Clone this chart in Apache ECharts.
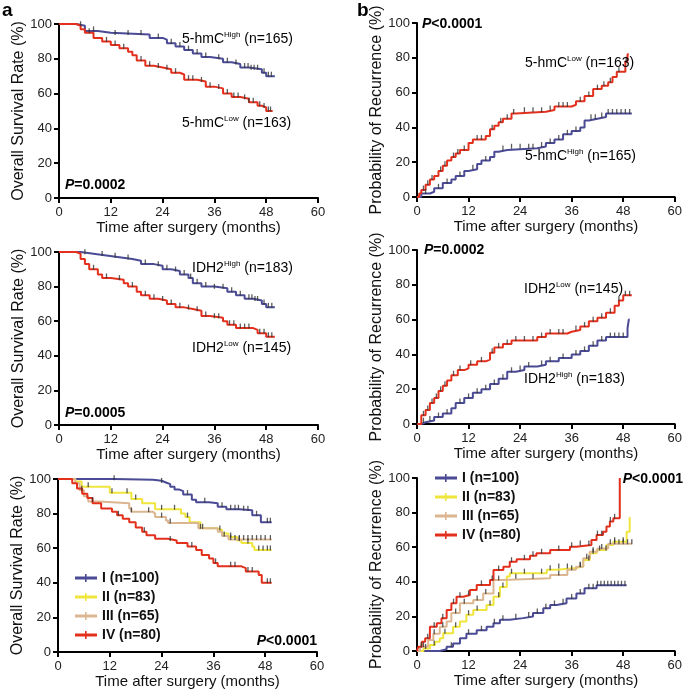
<!DOCTYPE html>
<html>
<head>
<meta charset="utf-8">
<script src="https://cdn.jsdelivr.net/npm/echarts/dist/echarts.min.js"></script>
<style>
html, body { margin: 0; padding: 0; background: #fff; }
#main { width: 685px; height: 691px; }
</style>
</head>
<body>
<div id="main"></div>
<script>
// ---- data (months, percent) ----
// panel a, top: 5-hmC overall survival
var hmcHighOS = [[0,100],[4,99],[6,96],[9,95],[12,94],[21,92],[24,91],[25,89],[27,87],[29,85],[31,83],[33,81],[35,80],[38,78],[40,77],[42,75],[44,74],[47,72],[48,70],[50,70]];
var hmcLowOS = [[0,100],[4,99],[5,97],[6,95],[8,92],[10,90],[12,88],[14,86],[16,84],[17,82],[18,79],[20,76],[22,75],[24,74],[26,72],[28,71],[29,68],[32,67],[34,64],[36,63],[38,60],[40,58],[42,57],[44,55],[46,53],[47,52],[48,50],[49.5,50]];
var hmcHighOSCens = [5,8,13,16,19,23,26,28,30,32,34,37,39,41,43,43.8,44.5,45.2,46,47.5,48.5,49.2];
var hmcLowOSCens = [7,11,13,15,19,21,23,25,27,30,31,33,35,37,39,40.5,41.5,43,44,45,46.5,47.5,48.5,49];

// panel b, top: 5-hmC recurrence
var hmcLowRec = [[0,0],[0.5,2],[1,4],[2,7],[3,10],[4,12],[5,15],[6,18],[7,21],[8,23],[9,25],[10,27],[12,31],[13,33],[16,35],[17,39],[18,41],[19,43],[20,45],[22,48],[23,49],[30,50],[32,52],[36,53],[37,55],[39,58],[41,62],[43,64],[44.5,66],[45.5,69],[46.5,72],[48.5,78],[49,82],[49.3,82]];
var hmcHighRec = [[0,0],[1,2],[3,3],[4,5],[6,8],[8,10],[9,12],[11,15],[12,16],[14,19],[15,21],[17,23],[18,26],[19,27],[21,28],[28,29],[30,31],[32,33],[34,36],[36,38],[38,40],[39,44],[40,45],[42,46],[44,48],[50,48]];
var hmcLowRecCens = [1.5,2.5,3.5,5.5,6.5,8.5,9.5,11,14,15,17.5,19.5,21,22.5,25,27,29,31,33,34,35,38,40,42,43.5,45,47,48.7];
var hmcHighRecCens = [2,5,7,10,13,16,20,22,24,26,27,29,31,33,35,37,40.5,41.5,43,44.5,45.5,46.5,47.5,48.5,49.5];

// panel a, middle: IDH2 overall survival
var idhHighOS = [[0,100],[5,99],[8,98],[11,97],[14,96],[17,95],[19,93],[22,92],[24,90],[26,89],[28,87],[30,85],[31,82],[33,80],[36,79],[39,77],[41,75],[43,73],[45,72],[47,70],[48,68],[50,68]];
var idhLowOS = [[0,100],[4,99],[5,96],[6,93],[7,90],[9,87],[10,85],[12,84],[15,82],[16,80],[18,77],[19,75],[21,73],[23,72],[25,70],[27,68],[29,67],[31,66],[33,63],[35,62],[38,60],[39,58],[41,56],[45,55],[46,53],[48,51],[50,51]];
var idhHighOSCens = [6,10,13,16,20,23,25,27,29,30.5,32,34,36,38,40,42,44,44.7,45.4,46,47.5,48.5,49.3];
var idhLowOSCens = [8,11,14,17,20,22,24,26,28,30,32,34,36,37,39.5,40.5,42,43,44,46.5,47.5,48.5,49.3];

// panel b, middle: IDH2 recurrence
var idhLowRec = [[0,0],[1,5],[2,8],[3,12],[4,15],[5,19],[6,22],[7,25],[8,28],[9.5,31],[11,32],[12,34],[14,36],[16,37],[17,41],[18,44],[20,46],[22,48],[28,50],[30,52],[35,53],[36,54],[38,56],[40,59],[42,61],[44,64],[46,68],[47,71],[48,74],[50,74]];
var idhHighRec = [[0,0],[1,1],[2,2],[4,4],[6,6],[8,9],[9,12],[11,15],[13,18],[15,20],[17,23],[19,26],[21,30],[23,31],[25,33],[28,34],[30,36],[33,38],[36,40],[38,42],[40,45],[42,48],[44,50],[49,55],[49.3,60],[49.5,60]];
var idhLowRecCens = [1.5,2.5,3.5,4.5,5.5,6.5,8.5,10,12.5,15,17.5,19,21,23,25,27,29,31,33,34,37,39,41,43,45,47,48.5,49.5];
var idhHighRecCens = [1.5,3,5,7,10,12,14,16,18,20,22,24,26,29,31,34,37,39,41,43,45,46,47,48];

// panel a, bottom: stage overall survival
var stageIOS = [[0,100],[13,99.5],[22,99],[24,98],[25,97],[26,95.5],[27,94],[28,93],[29,91],[31,88],[32,86.5],[35,86],[37,84],[39,82.5],[42,82],[45,79],[47,75],[49.5,75]];
var stageIIOS = [[0,100],[4,98.5],[5.5,95.5],[12,92],[17,88.5],[19.5,86],[22.5,82.5],[28.5,80],[29.5,78],[30.5,75],[33,71.5],[37,70.5],[38,68.5],[39.5,66.5],[41.5,64.5],[42.5,63],[45,61],[45.5,59],[49.5,59]];
var stageIIIOS = [[0,100],[4,97.5],[5,93.5],[6,90],[7,87],[9.5,86],[16.5,83],[17,81],[22,80],[22.5,78],[25,76],[25.5,74.5],[32.5,71.5],[37,69.5],[38,67],[39.5,65],[49.5,65]];
var stageIVOS = [[0,100],[3.3,97.5],[4.4,94.5],[5.6,91.5],[6.8,89],[8,86],[10,83],[12.5,81],[13.7,79],[15,77],[16.5,75],[18,72],[19.5,69.5],[20.5,67.5],[22.5,65.5],[25.5,64.5],[27.5,63],[30,61],[32,59],[33.3,56],[35,54],[36,51.5],[37,49.5],[42.5,48.5],[43.5,46.5],[46.5,44.5],[47.2,40],[49.5,40]];
var stageIOSCens = [13,24,30,34,38,40,41,41.8,43,44,46,48.5,49.2];
var stageIIOSCens = [7,12.5,16,18,24,27,30,33.5,37.5,40,42,44,46.5,47.5,48.5,49.2];
var stageIIIOSCens = [5.5,8,17,21,24,26,33,38.5,40,41,42,43,44,45,46,47,48,49.2];
var stageIVOSCens = [14,20,26,31,36.5,40,41,44,45,48.5,49.2];

// panel b, bottom: stage recurrence
var stageIRec = [[0,0],[5.3,1],[6.9,2.5],[8.4,4.4],[10,7.3],[11.5,10],[13.9,12],[16.2,14],[17.8,16],[19.3,18],[21.6,19],[24.7,20],[27,22],[29.4,24.7],[31,26.6],[32.5,27.6],[34.8,30.4],[37.1,33.3],[39,36.2],[41.8,38],[48.8,38]];
var stageIIRec = [[0,0],[1.5,1.5],[3,3.5],[4.2,5.4],[5.3,7.3],[6.1,10.2],[8.4,14],[10,17],[11.5,21],[13.1,23.7],[16.2,26.6],[17.8,31.4],[19.3,37],[20.9,43],[21.6,45],[28.6,45],[30.2,47],[32.5,48],[37.1,49],[38.7,52.6],[40.2,56.5],[41.8,58.4],[44.1,61.3],[45.7,63.2],[48.8,69],[49.5,77],[49.7,77]];
var stageIIIRec = [[0,0],[0.7,2.5],[2.6,6.4],[3.8,10],[5.3,14],[6.9,17],[8,22],[10,27.6],[13.1,29.5],[15.4,33.3],[17.8,41],[20,42],[31,44],[35,47],[37,48.7],[38.7,53.6],[40.2,57.4],[42,59.3],[44.5,62],[50,62]];
var stageIVRec = [[0,0],[0.3,2.5],[1.1,5.4],[1.9,7.3],[3,14],[4.6,16],[5.7,19],[6.9,23.7],[8,27.6],[9.2,31.4],[10.8,32.4],[12.3,35.3],[13.9,38.2],[17,41],[17.8,46.8],[20.1,48.7],[21.6,51.6],[23.2,53],[26.3,55],[27.8,56.5],[31,58.4],[35.6,60.3],[37.1,61.3],[40.6,64.2],[41.8,67],[43.3,69],[44.1,71.9],[44.9,74.8],[45.7,76.7],[47.2,100],[47.3,100]];
var stageIRecCens = [8,12,15,18,20,23,26,28,30,32,34,36,38,40,41,42,42.8,43.6,44.4,45.2,46,46.8,47.6,48.4];
var stageIIRecCens = [2,4,6.5,9,12,14,17,19,20,22,25,29,31,33,35,38,40,41,42.5,44,46,48];
var stageIIIRecCens = [1.5,4,6,9,11,14,16,19,23,27,33,36,38,39.5,41,43,45,46,47,48,49,50];
var stageIVRecCens = [1,2.5,4,6,8.5,10,12,15,17.5,19,22,25,27,29,33,36,38,40,42,43,45,46];

var stageNames = ['I (n=100)', 'II (n=83)', 'III (n=65)', 'IV (n=80)'];

var FONT = '"Liberation Sans", Arial, sans-serif';
var BLUE = '#4a4a95', RED = '#e3301d', YELLOW = '#efe53c', TAN = '#dcb690';
var OS_NAME = 'Overall Survival Rate (%)', REC_NAME = 'Probability of Recurrence (%)';

var panels = [
  { box: [59, 24, 259, 174], yName: OS_NAME, curves: [
    { name: '5-hmC High', data: hmcHighOS, cens: hmcHighOSCens, color: BLUE },
    { name: '5-hmC Low', data: hmcLowOS, cens: hmcLowOSCens, color: RED }] },
  { box: [417, 23, 261, 174], yName: REC_NAME, curves: [
    { name: '5-hmC High ', data: hmcHighRec, cens: hmcHighRecCens, color: BLUE },
    { name: '5-hmC Low ', data: hmcLowRec, cens: hmcLowRecCens, color: RED }] },
  { box: [59, 252, 259, 173], yName: OS_NAME, curves: [
    { name: 'IDH2 High', data: idhHighOS, cens: idhHighOSCens, color: BLUE },
    { name: 'IDH2 Low', data: idhLowOS, cens: idhLowOSCens, color: RED }] },
  { box: [417, 250, 261, 174], yName: REC_NAME, curves: [
    { name: 'IDH2 High ', data: idhHighRec, cens: idhHighRecCens, color: BLUE },
    { name: 'IDH2 Low ', data: idhLowRec, cens: idhLowRecCens, color: RED }] },
  { box: [58, 479, 259, 173], yName: OS_NAME, curves: [
    { name: stageNames[0], data: stageIOS, cens: stageIOSCens, color: BLUE },
    { name: stageNames[1], data: stageIIOS, cens: stageIIOSCens, color: YELLOW },
    { name: stageNames[2], data: stageIIIOS, cens: stageIIIOSCens, color: TAN },
    { name: stageNames[3], data: stageIVOS, cens: stageIVOSCens, color: RED }] },
  { box: [417, 478, 258, 173], yName: REC_NAME, curves: [
    { name: stageNames[0], data: stageIRec, cens: stageIRecCens, color: BLUE },
    { name: stageNames[1], data: stageIIRec, cens: stageIIRecCens, color: YELLOW },
    { name: stageNames[2], data: stageIIIRec, cens: stageIIIRecCens, color: TAN },
    { name: stageNames[3], data: stageIVRec, cens: stageIVRecCens, color: RED }] }
];

// value of a step curve at time t (last event at or before t)
function valueAt(curve, t) {
  var v = curve[0][1];
  for (var i = 0; i < curve.length; i++) {
    if (curve[i][0] <= t) v = curve[i][1];
  }
  return v;
}

var grids = [], xAxes = [], yAxes = [], series = [];
panels.forEach(function (p, i) {
  grids.push({ left: p.box[0], top: p.box[1], width: p.box[2], height: p.box[3] });
  var axisCommon = {
    gridIndex: i, type: 'value',
    nameLocation: 'middle',
    axisLine: { onZero: false, lineStyle: { color: '#000', width: 2 } },
    axisTick: { length: 5, lineStyle: { color: '#000', width: 2 } },
    splitLine: { show: false }
  };
  xAxes.push(Object.assign({}, axisCommon, {
    min: 0, max: 60, interval: 12,
    name: 'Time after surgery (months)', nameGap: 20,
    nameTextStyle: { fontSize: 15, color: '#111', fontFamily: FONT },
    axisLabel: { fontSize: 13, color: '#222', margin: 8, fontFamily: FONT }
  }));
  yAxes.push(Object.assign({}, axisCommon, {
    min: 0, max: 100, interval: 20,
    name: p.yName, nameGap: 26,
    nameTextStyle: { fontSize: 16, color: '#111', fontFamily: FONT },
    axisLabel: { fontSize: 13, color: '#222', margin: 7, fontFamily: FONT }
  }));
  p.curves.forEach(function (c) {
    series.push({
      type: 'line', name: c.name, xAxisIndex: i, yAxisIndex: i,
      data: c.data, step: 'end', symbol: 'none',
      lineStyle: { color: c.color, width: 2 }, itemStyle: { color: c.color }, z: 2
    });
    series.push({
      type: 'scatter', name: c.name + ' censored', xAxisIndex: i, yAxisIndex: i,
      data: c.cens.map(function (t) { return [t, valueAt(c.data, t)]; }),
      symbol: 'rect', symbolSize: [1.3, 5], symbolOffset: [0, -2],
      itemStyle: { color: '#333' }, z: 3, silent: true
    });
  });
});

var rich = {
  n: { fontSize: 14, fontFamily: FONT, color: '#111', lineHeight: 16 },
  s: { fontSize: 8, fontFamily: FONT, color: '#111', verticalAlign: 'top' },
  i: { fontSize: 14, fontFamily: FONT, color: '#111', fontWeight: 'bold', fontStyle: 'italic' },
  b: { fontSize: 14, fontFamily: FONT, color: '#111', fontWeight: 'bold' }
};
function label(x, y, base, sup, n) {
  return { type: 'text', left: x, top: y, z: 10,
    style: { text: '{n|' + base + '}{s|' + sup + '}{n| (n=' + n + ')}', rich: rich } };
}
function pval(x, y, txt, align) {
  var g = { type: 'text', top: y, z: 10, style: { text: '{i|P}{b|' + txt + '}', rich: rich } };
  if (align === 'right') g.right = x; else g.left = x;
  return g;
}

var legendIcon = 'path://M0,3.5L22,3.5L22,6.5L0,6.5Z M10,1L11.6,1L11.6,9L10,9Z';
function stageLegend(left, top) {
  return {
    orient: 'vertical', left: left, top: top, data: stageNames,
    icon: legendIcon, itemWidth: 22, itemHeight: 10, itemGap: 5,
    textStyle: { fontSize: 14, fontWeight: 'bold', color: '#111', fontFamily: FONT },
    selectedMode: false
  };
}

var option = {
  animation: false,
  backgroundColor: '#fff',
  grid: grids,
  xAxis: xAxes,
  yAxis: yAxes,
  series: series,
  legend: [stageLegend(70, 566), stageLegend(430, 466)],
  graphic: [
    { type: 'text', left: 2, top: 1, style: { text: 'a', fontSize: 19, fontWeight: 'bold', fontFamily: FONT, fill: '#000' } },
    { type: 'text', left: 357, top: 1, style: { text: 'b', fontSize: 19, fontWeight: 'bold', fontFamily: FONT, fill: '#000' } },
    label(182, 31, '5-hmC', 'High', 165),
    label(182, 115, '5-hmC', 'Low', 163),
    label(525, 55, '5-hmC', 'Low', 163),
    label(525, 148, '5-hmC', 'High', 165),
    label(192, 260, 'IDH2', 'High', 183),
    label(192, 340, 'IDH2', 'Low', 145),
    label(524, 281, 'IDH2', 'Low', 145),
    label(524, 371, 'IDH2', 'High', 183),
    pval(65, 178, '=0.0002'),
    pval(422, 17, '<0.0001'),
    pval(65, 406, '=0.0005'),
    pval(424, 243, '=0.0002'),
    pval(368, 634, '<0.0001', 'right'),
    pval(2, 472, '<0.0001', 'right')
  ]
};

var myChart = echarts.init(document.getElementById('main'));
myChart.setOption(option);
window.onresize = function () {
  myChart.resize();
};
</script>
</body>
</html>
